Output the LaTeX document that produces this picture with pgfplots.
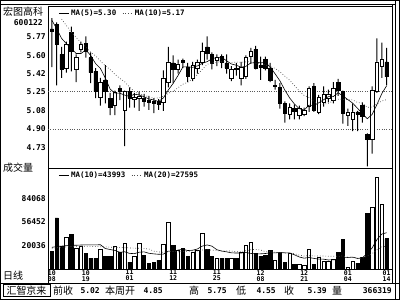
\documentclass[border=0pt]{standalone}
\usepackage{fontspec}
\setmonofont{DejaVu Sans Mono}
\newfontfamily\cjk{Noto Sans CJK SC}
\usepackage{pgfplots}
\usepackage{pgfplotstable}
\pgfplotsset{compat=1.18}

% i: trading day index, o/h/l/c: price, v: volume (thousands), m5/m10: price MAs, vm10/vm20: volume MAs (thousands)
\pgfplotstableread{
i o h l c v m5 m10 vm10 vm20
0 5.84 5.94 5.48 5.82 21.6 5.92 nan 26.0 25.0
1 5.88 5.90 5.31 5.69 61.3 5.84 nan 27.0 25.5
2 5.60 5.67 5.38 5.46 27.6 5.75 5.93 27.5 26.0
3 5.47 5.72 5.43 5.69 38.4 5.70 5.87 28.0 26.5
4 5.81 5.86 5.44 5.63 42.0 5.658 5.81 28.5 27.0
5 5.46 5.60 5.34 5.57 25.2 5.608 5.76 28.5 27.2
6 5.65 5.72 5.62 5.69 27.6 5.608 5.71 28.8 27.3
7 5.70 5.77 5.57 5.63 19.2 5.642 5.67 29.0 27.3
8 5.57 5.62 5.33 5.43 13.2 5.590 5.62 29.0 27.2
9 5.44 5.47 5.19 5.25 13.2 5.514 5.586 28.93 27.0
10 5.20 5.38 5.12 5.34 24.0 5.468 5.538 29.17 26.8
11 5.36 5.50 5.14 5.25 15.6 5.380 5.494 24.60 26.5
12 5.19 5.24 5.03 5.10 15.6 5.274 5.458 23.40 26.2
13 5.12 5.26 5.03 5.24 27.6 5.236 5.413 22.32 26.0
14 5.28 5.31 5.17 5.25 20.0 5.236 5.375 20.12 25.8
15 5.08 5.26 4.74 5.25 31.0 5.218 5.343 20.70 25.6
16 5.25 5.29 5.10 5.19 8.4 5.206 5.293 18.78 25.3
17 5.18 5.24 5.10 5.20 15.6 5.226 5.250 18.42 25.0
18 5.19 5.25 5.07 5.21 31.0 5.220 5.228 20.20 24.9
19 5.19 5.23 5.11 5.16 16.8 5.202 5.219 20.56 24.745
20 5.17 5.21 5.08 5.15 7.2 5.182 5.200 18.88 24.025
21 5.16 5.19 5.05 5.14 8.4 5.172 5.189 18.16 21.38
22 5.16 5.18 5.08 5.13 10.8 5.158 5.192 17.68 20.54
23 5.15 5.45 5.07 5.38 30.0 5.192 5.206 17.92 20.12
24 5.34 5.67 5.29 5.53 56.0 5.266 5.234 21.52 20.82
25 5.52 5.59 5.33 5.46 28.8 5.328 5.255 21.30 21.00
26 5.46 5.55 5.42 5.51 22.8 5.402 5.287 22.74 20.76
27 5.54 5.56 5.47 5.53 25.2 5.482 5.320 23.70 21.06
28 5.48 5.52 5.34 5.39 15.6 5.484 5.338 22.16 21.18
29 5.38 5.53 5.35 5.50 20.4 5.478 5.372 22.52 21.54
30 5.47 5.55 5.42 5.53 22.8 5.492 5.410 24.08 21.48
31 5.53 5.71 5.50 5.63 43.0 5.516 5.459 27.54 22.85
32 5.67 5.77 5.55 5.61 24.0 5.532 5.507 28.86 23.27
33 5.60 5.62 5.46 5.52 15.6 5.558 5.521 27.42 22.67
34 5.54 5.60 5.49 5.57 13.2 5.572 5.525 23.14 22.33
35 5.58 5.60 5.47 5.53 13.2 5.572 5.532 21.58 21.44
36 5.52 5.60 5.42 5.47 13.2 5.540 5.528 20.62 21.68
37 5.38 5.49 5.35 5.46 13.2 5.510 5.521 19.42 21.56
38 5.47 5.52 5.40 5.46 13.2 5.498 5.528 19.18 20.67
39 5.38 5.53 5.31 5.48 20.4 5.480 5.526 19.18 20.85
40 5.39 5.59 5.37 5.57 28.8 5.488 5.530 19.78 21.93
41 5.58 5.66 5.51 5.63 32.4 5.520 5.530 18.72 23.13
42 5.65 5.68 5.46 5.47 19.2 5.522 5.516 18.24 23.55
43 5.50 5.58 5.36 5.48 15.6 5.526 5.512 18.24 22.83
44 5.55 5.58 5.45 5.47 16.8 5.524 5.502 18.60 20.87
45 5.47 5.52 5.34 5.36 22.8 5.482 5.485 19.56 20.57
46 5.30 5.36 5.27 5.31 10.8 5.418 5.469 19.32 19.97
47 5.29 5.33 5.09 5.14 19.2 5.352 5.437 19.92 19.67
48 5.14 5.16 4.96 5.05 8.4 5.266 5.396 19.44 19.31
49 5.04 5.14 4.99 5.10 19.2 5.192 5.358 19.32 19.25
50 5.09 5.13 4.99 5.07 6.0 5.134 5.308 17.04 18.41
51 5.03 5.12 4.99 5.09 6.0 5.090 5.254 14.40 16.56
52 5.04 5.10 5.02 5.08 5.0 5.078 5.215 12.98 15.61
53 5.11 5.30 5.06 5.28 24.0 5.124 5.195 13.82 16.03
54 5.30 5.33 5.06 5.08 6.0 5.120 5.156 12.74 15.67
55 5.06 5.22 5.04 5.20 14.4 5.146 5.140 11.90 15.73
56 5.15 5.30 5.11 5.23 9.6 5.174 5.132 11.78 15.55
57 5.19 5.27 5.15 5.23 9.6 5.204 5.141 10.82 15.37
58 5.17 5.34 5.14 5.28 11.4 5.204 5.164 11.12 15.28
59 5.34 5.37 5.21 5.26 20.0 5.240 5.180 11.20 15.26
60 5.25 5.26 4.95 5.05 36.0 5.210 5.178 14.20 15.62
61 5.03 5.09 4.93 5.06 2.4 5.176 5.175 13.84 14.12
62 4.99 5.14 4.88 5.06 9.6 5.142 5.173 14.30 13.64
63 5.06 5.07 4.88 5.04 7.2 5.094 5.149 12.62 13.22
64 5.12 5.15 4.96 5.02 14.4 5.046 5.143 13.46 13.10
65 4.85 4.86 4.55 4.80 67.0 4.996 5.103 18.72 15.31
66 4.80 5.30 4.67 5.26 74.5 5.036 5.106 25.21 18.50
67 5.25 5.75 5.24 5.53 110.5 5.130 5.136 35.30 23.06
68 5.49 5.71 5.38 5.55 78.0 5.232 5.163 41.96 26.54
69 5.53 5.66 5.31 5.39 36.3 5.306 5.176 43.59 27.40
}\data

\pgfplotsset{
  base/.style={scale only axis, anchor=south west, xmin=-0.8, xmax=70.1,
    axis line style={line width=0.8pt}, major tick length=0pt, clip=true},
  pr/.style={base, at={(48pt,132pt)}, width=344pt, height=162pt, ymin=4.534, ymax=6.054},
  vo/.style={base, at={(48pt,31pt)}, width=344pt, height=101pt, ymin=0, ymax=121.3},
  tl/.style={font=\ttfamily\bfseries\fontsize{8}{8}\selectfont},
}

\begin{document}
\begin{tikzpicture}[x=1pt,y=1pt]
\path[use as bounding box] (0,0) rectangle (400,300);
% frames
\draw[line width=1pt] (0.5,0.5) rectangle (399.5,299.5);
\draw[line width=0.8pt] (0,17) -- (400,17);
\draw[line width=0.8pt] (392,17) -- (392,296) (395,0) -- (395,299) (0,296) -- (395,296);
\draw[line width=0.8pt] (48,31) -- (48,17);

% price panel: frame, ticks, grid, wicks
\begin{axis}[pr, ybar stacked, bar width=1pt,
  xtick=\empty,
  ytick={4.7267,4.9,5.0733,5.2467,5.42,5.5933,5.7667},
  yticklabels={4.73,4.90,5.08,5.25,5.42,5.60,5.77},
  yticklabel style={tl, inner sep=1pt, xshift=-1pt},
  extra y ticks={4.90,5.25}, extra y tick labels={},
  extra y tick style={grid=major, major grid style={dotted, black!65, line width=0.7pt}}]
\addplot[draw=none, fill=none] table[x=i, y=l] {\data};
\addplot[draw=none, fill=black] table[x=i, y expr={\thisrow{h}-\thisrow{l}}] {\data};
\end{axis}
% candle bodies
\begin{axis}[pr, hide axis, ybar stacked, bar width=3.4pt]
\addplot[draw=none, fill=none] table[x=i, y expr={min(\thisrow{o},\thisrow{c})}] {\data};
\addplot[draw=black, fill=white, line width=0.6pt] table[x=i, y expr={max(\thisrow{c}-\thisrow{o},0)}] {\data};
\addplot[draw=black, fill=black, line width=0.6pt] table[x=i, y expr={max(\thisrow{o}-\thisrow{c},0)}] {\data};
\end{axis}
% moving averages
\begin{axis}[pr, hide axis, unbounded coords=jump,
  legend columns=2,
  legend style={at={(0.03,0.957)}, anchor=west, draw=none, fill=none, inner sep=0pt,
    font=\ttfamily\bfseries\fontsize{7.5}{8}\selectfont,
    /tikz/every even column/.append style={column sep=4pt}},
  legend image code/.code={\draw[#1] (0pt,0pt) -- (10pt,0pt);}]
\addplot[black, line width=0.6pt, mark=none] table[x=i, y=m5] {\data};
\addlegendentry{MA(5)=5.30}
\addplot[black!70, dotted, line width=0.7pt, mark=none] table[x=i, y=m10] {\data};
\addlegendentry{MA(10)=5.17}
\end{axis}

% volume panel
\begin{axis}[vo, ybar stacked, bar width=3.4pt,
  xtick={0,7,16,25,34,43,52,61,69},
  xticklabels={{10\\08},{10\\19},{11\\01},{11\\12},{11\\25},{12\\08},{12\\21},{01\\04},{01\\14}},
  xticklabel style={font=\ttfamily\bfseries\fontsize{6.5}{6}\selectfont, align=center, inner sep=1pt},
  ytick={27.6,56.452,84.068},
  yticklabels={20036,56452,84068},
  yticklabel style={tl, inner sep=1pt, xshift=-1pt}]
\addplot[draw=black, fill=white, line width=0.6pt] table[x=i, y expr={ifthenelse(\thisrow{c}>=\thisrow{o},\thisrow{v},0)}] {\data};
\addplot[draw=black, fill=black, line width=0.6pt] table[x=i, y expr={ifthenelse(\thisrow{c}<\thisrow{o},\thisrow{v},0)}] {\data};
\end{axis}
\begin{axis}[vo, hide axis,
  legend columns=2,
  legend style={at={(0.03,0.93)}, anchor=west, draw=none, fill=none, inner sep=0pt,
    font=\ttfamily\bfseries\fontsize{7.5}{8}\selectfont,
    /tikz/every even column/.append style={column sep=4pt}},
  legend image code/.code={\draw[#1] (0pt,0pt) -- (10pt,0pt);}]
\addplot[black, line width=0.6pt, mark=none] table[x=i, y=vm10] {\data};
\addlegendentry{MA(10)=43993}
\addplot[black!70, dotted, line width=0.7pt, mark=none] table[x=i, y=vm20] {\data};
\addlegendentry{MA(20)=27595}
\end{axis}

% left column texts
\node[anchor=west, inner sep=0pt, font=\cjk\fontsize{10}{10}\selectfont] at (3,288.5) {宏图高科};
\node[anchor=east, inner sep=0pt, font=\ttfamily\bfseries\fontsize{8}{8}\selectfont] at (43,277.5) {600122};
\node[anchor=west, inner sep=0pt, font=\cjk\fontsize{10}{10}\selectfont] at (3,132.5) {成交量};
\node[anchor=west, inner sep=0pt, font=\cjk\fontsize{10}{10}\selectfont] at (3,24.5) {日线};

% bottom information bar
\draw[line width=0.8pt] (3,3.5) rectangle (50,15.5);
\node[inner sep=0pt, font=\cjk\fontsize{10}{10}\selectfont] at (26.5,9.5) {汇智京来};
\begin{scope}[every node/.style={inner sep=0pt}]
\node[anchor=west, font=\cjk\fontsize{10}{10}\selectfont] at (53,9.5) {前收};
\node[anchor=east, font=\ttfamily\bfseries\fontsize{8}{8}\selectfont] at (100,9.5) {5.02};
\node[anchor=west, font=\cjk\fontsize{10}{10}\selectfont] at (105,9.5) {本周开};
\node[anchor=east, font=\ttfamily\bfseries\fontsize{8}{8}\selectfont] at (163,9.5) {4.85};
\node[anchor=west, font=\cjk\fontsize{10}{10}\selectfont] at (189,9.5) {高};
\node[anchor=east, font=\ttfamily\bfseries\fontsize{8}{8}\selectfont] at (227,9.5) {5.75};
\node[anchor=west, font=\cjk\fontsize{10}{10}\selectfont] at (236,9.5) {低};
\node[anchor=east, font=\ttfamily\bfseries\fontsize{8}{8}\selectfont] at (276,9.5) {4.55};
\node[anchor=west, font=\cjk\fontsize{10}{10}\selectfont] at (284,9.5) {收};
\node[anchor=east, font=\ttfamily\bfseries\fontsize{8}{8}\selectfont] at (327,9.5) {5.39};
\node[anchor=west, font=\cjk\fontsize{10}{10}\selectfont] at (332,9.5) {量};
\node[anchor=east, font=\ttfamily\bfseries\fontsize{8}{8}\selectfont] at (392,9.5) {366319};
\end{scope}
\end{tikzpicture}
\end{document}
